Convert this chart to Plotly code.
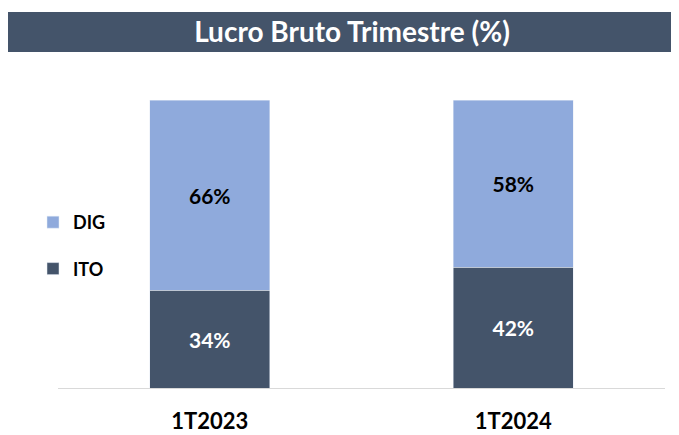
import plotly.graph_objects as go

categories = ["1T2023", "1T2024"]
ito_values = [34, 42]
dig_values = [66, 58]
title_text = "Lucro Bruto Trimestre (%)"

DARK = "#44546A"
LIGHT = "#8FAADC"
FONT = "Lato, Open Sans, sans-serif"

fig = go.Figure()
fig.add_trace(go.Bar(
    x=categories, y=ito_values, name="<b>ITO</b>", marker_color=DARK,
    text=[f"<b>{v}%</b>" for v in ito_values], textposition="inside",
    insidetextanchor="middle", textfont=dict(color="white", size=21, family=FONT),
    legendgroup="ito", legendrank=2,
))
fig.add_trace(go.Bar(
    x=categories, y=dig_values, name="<b>DIG</b>", marker_color=LIGHT,
    text=[f"<b>{v}%</b>" for v in dig_values], textposition="inside",
    insidetextanchor="middle", textfont=dict(color="black", size=21, family=FONT),
    legendgroup="dig", legendrank=1,
))

# The page places the figure 8px from the window's top-left corner,
# so layout positions below are given in figure pixels (screen - 8).
W, H = 671, 427
ml, mr, mt, mb = 50, 14, 92, 47
pw = W - ml - mr
ph = H - mt - mb

def px_x(x):
    return (x - ml) / pw

def px_y(y):
    return (H - mb - y) / ph

fig.update_layout(
    width=W, height=H,
    margin=dict(l=ml, r=mr, t=mt, b=mb, autoexpand=False),
    barmode="stack", bargap=0.605,
    plot_bgcolor="white", paper_bgcolor="white",
    font=dict(family=FONT, color="black"),
    title=dict(text=f"<b>{title_text}</b>", x=344 / W, xanchor="center",
               y=1 - 24 / H, yanchor="middle", yref="container",
               font=dict(size=28, color="white", family=FONT)),
    showlegend=True,
    legend=dict(xref="container", yref="container",
                x=25 / W, xanchor="left", y=1 - 196 / H, yanchor="top",
                font=dict(size=18, family=FONT, color="black"),
                tracegroupgap=20, bgcolor="rgba(0,0,0,0)",
                itemclick=False),
    shapes=[dict(type="rect", xref="paper", yref="paper",
                 x0=px_x(0), x1=px_x(W), y0=px_y(44), y1=px_y(4),
                 fillcolor=DARK, line=dict(width=0), layer="below")],
    xaxis=dict(showline=True, linecolor="#D9D9D9", linewidth=1,
               tickfont=dict(size=22, family=FONT, color="black"),
               ticks="", ticklabelstandoff=14, automargin=False),
    yaxis=dict(range=[0, 100], visible=False, showgrid=False, automargin=False),
)
fig.update_xaxes(tickvals=categories, ticktext=[f"<b>{c}</b>" for c in categories])

fig.write_html("out.html")
